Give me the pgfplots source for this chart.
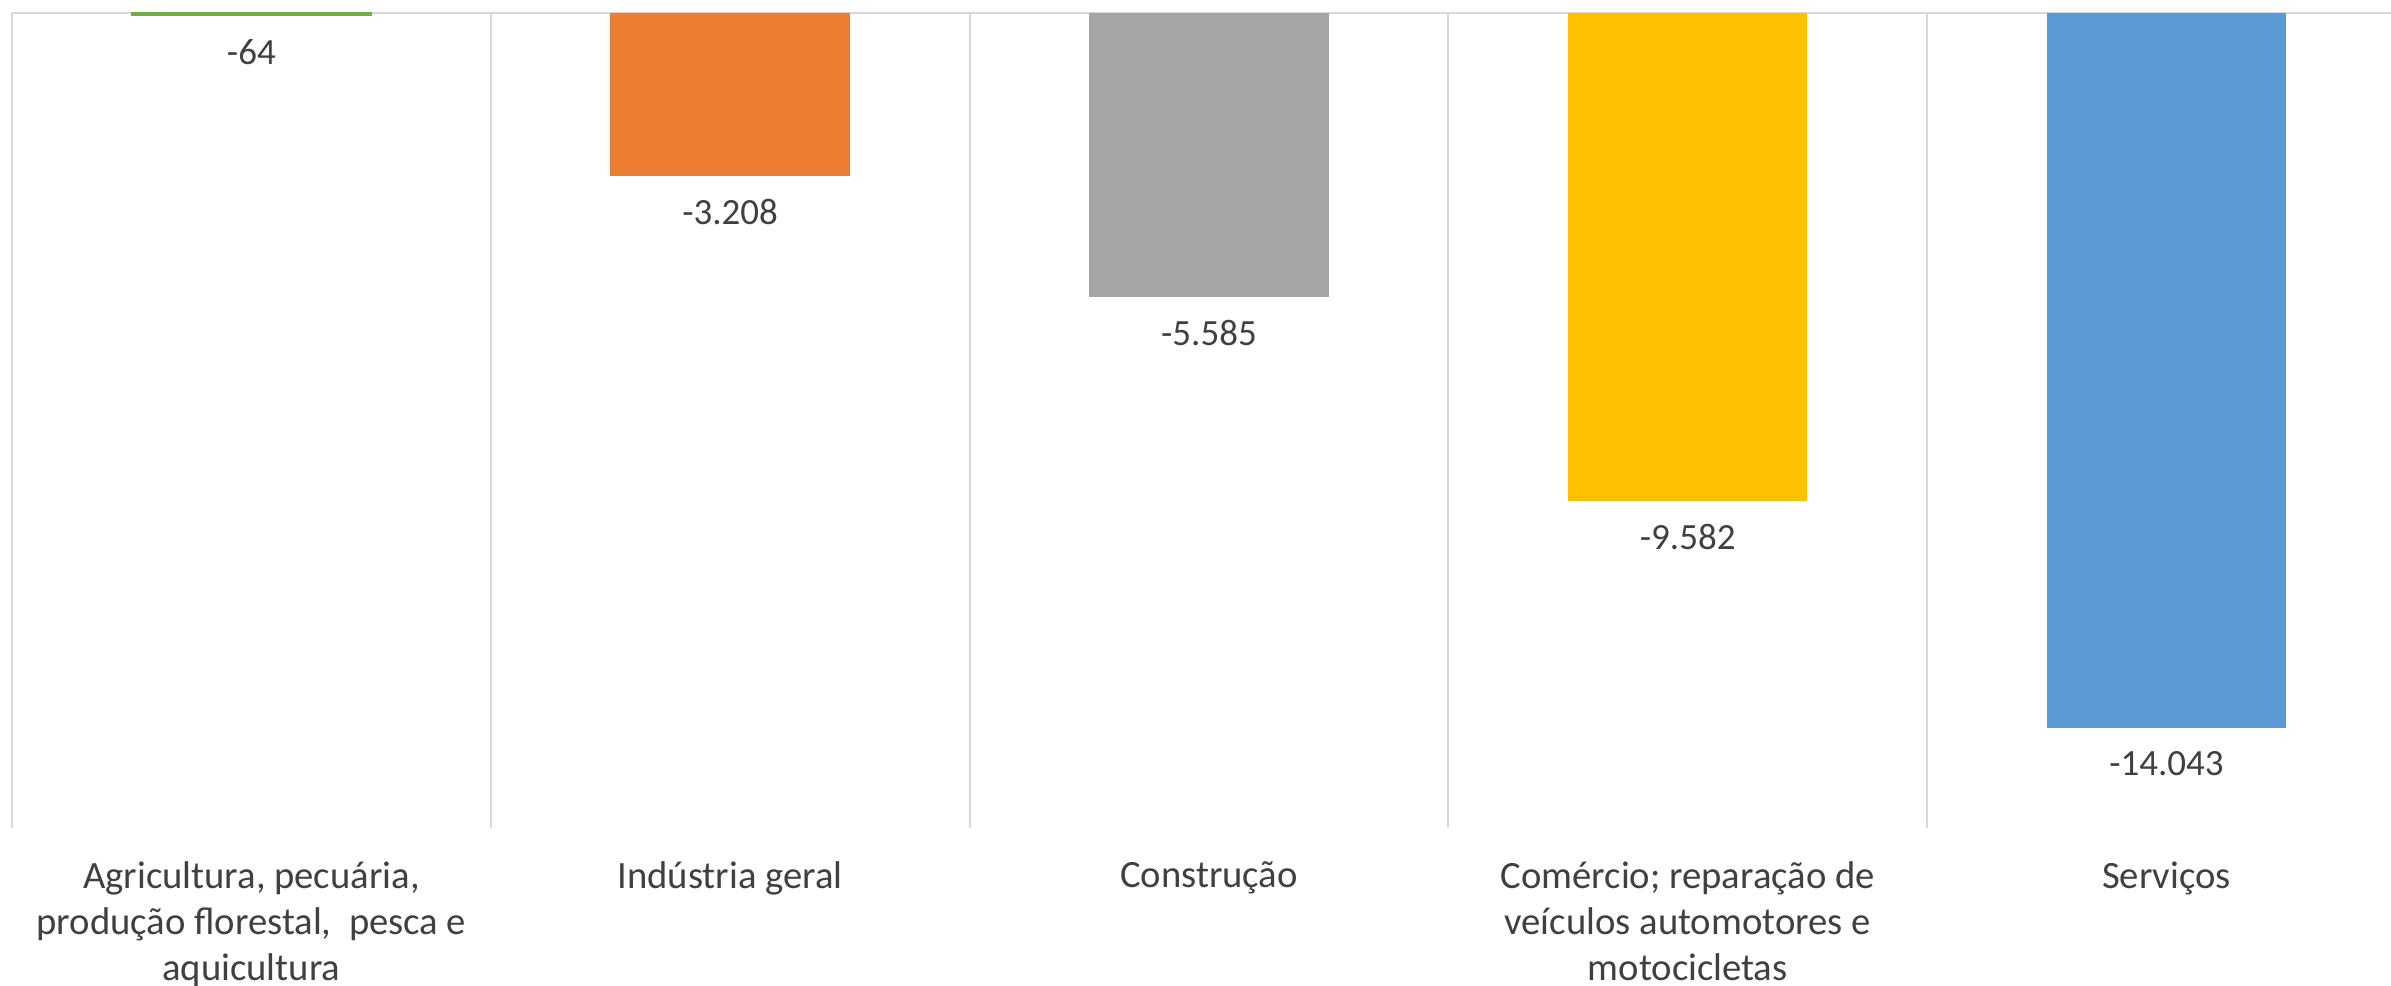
\documentclass[border=0pt]{standalone}
\usepackage{pgfplots}
\pgfplotsset{compat=1.18}
\usepackage{fontspec}
\setmainfont{Carlito}
\definecolor{gridc}{HTML}{D9D9D9}
\definecolor{textc}{HTML}{404040}
\definecolor{cgreen}{HTML}{70AD47}
\definecolor{corange}{HTML}{ED7D31}
\definecolor{cgray}{HTML}{A5A5A5}
\definecolor{cyellow}{HTML}{FFC000}
\definecolor{cblue}{HTML}{5B9BD5}
\begin{document}
\begin{tikzpicture}
\path[use as bounding box] (-3.6pt,-47.1pt) rectangle (713.7pt,248.4pt);
\begin{axis}[
  at={(0,0)}, anchor=south west,
  scale only axis, width=713.7pt, height=244.65pt,
  xmin=-0.5, xmax=4.469, ymin=-16000, ymax=0,
  axis line style={draw=none},
  major tick length=0pt, minor tick length=0pt,
  xtick={0,1,2,3,4},
  xticklabels={{Agricultura, pecuária,\\produção florestal,~~pesca e\\aquicultura},
               {Indústria geral},
               {Construção},
               {Comércio; reparação de\\veículos automotores e\\motocicletas},
               {Serviços}},
  xticklabel style={font=\fontsize{11.6}{13.8}\selectfont, text=textc, align=center, anchor=north, yshift=-6.5pt},
  minor xtick={-0.5,0.5,1.5,2.5,3.5},
  xminorgrids,
  minor grid style={gridc, line width=0.6pt},
  ytick={0}, yticklabels={},
  ymajorgrids,
  major grid style={gridc, line width=0.6pt},
  ybar, bar width=0.5, bar shift=0pt,
  nodes near coords,
  /pgf/number format/assume math mode=true,
  /pgf/number format/1000 sep={.},
  every node near coord/.append style={font=\fontsize{11.1}{13}\selectfont, text=textc, yshift=-3.5pt},
  clip=false,
]
\addplot[fill=cgreen, draw=cgreen, line width=0.4pt] coordinates {(0,-64)};
\addplot[fill=corange, draw=none] coordinates {(1,-3208)};
\addplot[fill=cgray, draw=none] coordinates {(2,-5585)};
\addplot[fill=cyellow, draw=none] coordinates {(3,-9582)};
\addplot[fill=cblue, draw=none] coordinates {(4,-14043)};
\end{axis}
\end{tikzpicture}
\end{document}
